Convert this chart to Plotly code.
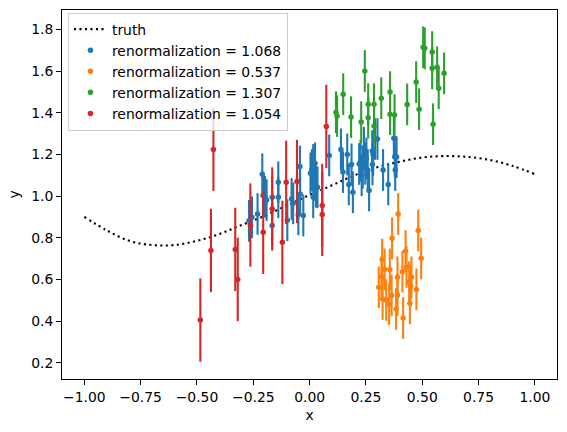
import plotly.graph_objects as go

# truth curve
truth_x = [-1.0, -0.9, -0.8, -0.7, -0.6, -0.5, -0.4, -0.3, -0.2, -0.1, 0.0,
           0.1, 0.2, 0.3, 0.4, 0.5, 0.6, 0.7, 0.8, 0.9, 1.0]
truth_y = [0.900, 0.835, 0.785, 0.765, 0.765, 0.785, 0.818, 0.862, 0.905, 0.955, 1.005,
           1.052, 1.100, 1.138, 1.165, 1.185, 1.192, 1.188, 1.173, 1.145, 1.105]

blue_x = [-0.269, -0.256, -0.231, -0.210, -0.207, -0.198, -0.191, -0.166, -0.166, -0.139,
          -0.139, -0.099, -0.080, -0.073, -0.043, -0.042, -0.050, -0.028,
          0.004, 0.010, 0.016, 0.024, 0.019, 0.028, 0.016, 0.035,
          0.087, 0.139, 0.148, 0.167, 0.174, 0.186, 0.192, 0.220, 0.231, 0.241,
          0.247, 0.264, 0.278, 0.282, 0.279, 0.290, 0.301, 0.326, 0.349, 0.374,
          0.378, 0.380, 0.386, 0.236, 0.252, 0.226, 0.258]
blue_y = [0.881, 0.898, 0.914, 1.105, 1.003, 0.997, 0.981, 0.994, 0.859, 1.066,
          0.994, 0.884, 0.986, 0.965, 1.142, 1.010, 0.912, 0.907,
          1.109, 1.125, 1.149, 1.157, 1.077, 1.045, 0.994, 1.042,
          1.195, 1.224, 1.115, 1.200, 1.056, 1.152, 1.018, 1.154, 1.100, 1.232,
          1.155, 1.027, 1.216, 1.197, 1.152, 1.274, 1.274, 1.125, 1.056, 1.278,
          1.189, 1.125, 1.187, 1.135, 1.180, 1.170, 1.125]
blue_err = [0.1] * len(blue_x)

orange_x = [0.393, 0.366, 0.482, 0.495, 0.322, 0.426, 0.356, 0.333, 0.412, 0.390,
            0.452, 0.442, 0.307, 0.364, 0.390, 0.474, 0.324, 0.340, 0.445, 0.384,
            0.415, 0.319, 0.430, 0.448, 0.353]
orange_y = [0.914, 0.797, 0.835, 0.701, 0.696, 0.736, 0.648, 0.648, 0.637, 0.610,
            0.610, 0.587, 0.562, 0.523, 0.525, 0.552, 0.506, 0.501, 0.485, 0.458,
            0.415, 0.613, 0.660, 0.568, 0.482]
orange_err = [0.1] * len(orange_x)

green_x = [0.117, 0.122, 0.149, 0.184, 0.229, 0.245, 0.260, 0.260, 0.286, 0.286,
           0.318, 0.357, 0.357, 0.377, 0.433, 0.473, 0.486, 0.504, 0.511, 0.544,
           0.544, 0.548, 0.566, 0.573, 0.597]
green_y = [1.402, 1.384, 1.489, 1.379, 1.355, 1.600, 1.441, 1.376, 1.441, 1.336,
           1.470, 1.499, 1.393, 1.389, 1.440, 1.547, 1.417, 1.714, 1.709, 1.691,
           1.613, 1.345, 1.618, 1.517, 1.589]
green_err = [0.1] * len(green_x)

red_x = [-0.427, -0.438, -0.485, -0.330, -0.319, -0.263, -0.206, -0.166, -0.121, -0.104,
         -0.056, 0.056, 0.056, 0.074]
red_y = [1.224, 0.739, 0.405, 0.744, 0.600, 0.861, 0.826, 0.938, 0.778, 1.066,
         1.070, 0.955, 0.912, 1.334]
red_err = [0.2] * len(red_x)

series = [
    ("renormalization = 1.068", blue_x, blue_y, blue_err, "#1f77b4"),
    ("renormalization = 0.537", orange_x, orange_y, orange_err, "#ff7f0e"),
    ("renormalization = 1.307", green_x, green_y, green_err, "#2ca02c"),
    ("renormalization = 1.054", red_x, red_y, red_err, "#d62728"),
]

fig = go.Figure()
fig.add_trace(go.Scatter(x=truth_x, y=truth_y, mode="lines", name="truth",
                         line=dict(color="black", width=2.1, dash="2.1px,3.4px", shape="spline")))
for name, xs, ys, es, col in series:
    fig.add_trace(go.Scatter(
        x=xs, y=ys, mode="markers", name=name,
        marker=dict(color=col, size=5.5, line=dict(width=0)),
        error_y=dict(type="data", array=es, visible=True, color=col, thickness=2.1, width=0),
    ))

font = dict(family="DejaVu Sans", size=13.9, color="black")
axis_common = dict(showline=True, mirror=True, linecolor="black", linewidth=1.1,
                   ticks="outside", ticklen=4.9, tickwidth=1.1, tickcolor="black",
                   showgrid=False, zeroline=False, tickfont=font)
fig.update_layout(
    width=567, height=432,
    margin=dict(l=62, r=10, t=10, b=53),
    paper_bgcolor="white", plot_bgcolor="white",
    font=font,
    showlegend=True,
    legend=dict(x=0.012, y=0.993, xanchor="left", yanchor="top",
                bgcolor="rgba(255,255,255,0.8)", bordercolor="#cccccc", borderwidth=1,
                font=font, tracegroupgap=0, itemwidth=33),
    xaxis=dict(range=[-1.099, 1.098], tickvals=[-1.0, -0.75, -0.5, -0.25, 0.0, 0.25, 0.5, 0.75, 1.0],
               tickformat=".2f", title=dict(text="x", font=font, standoff=6), **axis_common),
    yaxis=dict(range=[0.122, 1.893], tickvals=[0.2, 0.4, 0.6, 0.8, 1.0, 1.2, 1.4, 1.6, 1.8],
               tickformat=".1f", title=dict(text="y", font=font, standoff=8), **axis_common),
)
fig.write_html("out.html")
